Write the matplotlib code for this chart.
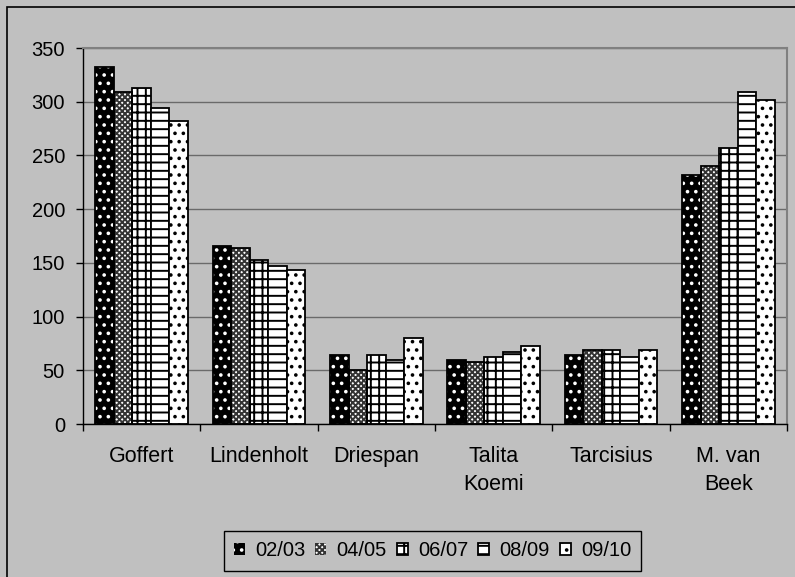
import numpy as np
import matplotlib
matplotlib.use("Agg")
from matplotlib import pyplot as plt
from matplotlib.patches import Rectangle

plt.rcParams['font.family'] = ['Liberation Sans', 'DejaVu Sans']
plt.rcParams['hatch.linewidth'] = 1.4

schools = ["Goffert", "Lindenholt", "Driespan", "Talita\nKoemi", "Tarcisius", "M. van\nBeek"]
seasons = ["02/03", "04/05", "06/07", "08/09", "09/10"]

v0203 = [332, 166, 64, 60, 64, 232]
v0405 = [309, 164, 50, 58, 69, 240]
v0607 = [313, 153, 64, 62, 69, 257]
v0809 = [294, 147, 60, 67, 62, 309]
v0910 = [282, 143, 80, 73, 69, 302]
values = [v0203, v0405, v0607, v0809, v0910]

hatches = ['..', 'xxxxxx', '++', '--', '..']
faces = ['black', 'white', 'white', 'white', 'white']

bg = '#c0c0c0'
fig = plt.figure(figsize=(7.95, 5.77), dpi=100, facecolor=bg)
ax = fig.add_axes([83/795, 1 - 424/577, 704/795, 376/577])
ax.set_facecolor(bg)

# outer chart frame (only left and top edges are inside the picture)
fig.add_artist(Rectangle((7/795, -0.5), 2, 1.5 - 7/577, transform=fig.transFigure,
                         fill=False, edgecolor='black', linewidth=1.2))

x = np.arange(len(schools))
w = 0.158
handles = []
for i, vals in enumerate(values):
    pos = x + (i - 2) * w
    if i == 0:
        b = ax.bar(pos, vals, w, color='black', edgecolor='white', hatch=hatches[i],
                   linewidth=0, zorder=2, label=seasons[i])
        ax.bar(pos, vals, w, fill=False, edgecolor='black', linewidth=1.3, zorder=3)
    elif i == 1:
        b = ax.bar(pos, vals, w, color=faces[i], edgecolor='#333333', hatch=hatches[i],
                   linewidth=0, zorder=2, label=seasons[i])
        ax.bar(pos, vals, w, fill=False, edgecolor='black', linewidth=1.3, zorder=3)
    else:
        b = ax.bar(pos, vals, w, color=faces[i], edgecolor='black', hatch=hatches[i],
                   linewidth=1.3, zorder=2, label=seasons[i])
    handles.append(b)

ax.set_xlim(-0.5, len(schools) - 0.5)
ax.set_ylim(0, 350)
ax.set_yticks(np.arange(0, 351, 50))
ax.yaxis.grid(True, color='#6a6a6a', linewidth=1.0)
ax.set_axisbelow(True)

ax.set_xticks(np.arange(len(schools) + 1) - 0.5)
ax.set_xticklabels([])
ax.set_xticks(x, minor=True)
ax.set_xticklabels(schools, minor=True, fontsize=15.5, linespacing=1.4, va='top')
ax.tick_params(axis='x', which='major', length=5, width=1, direction='out', color='black')
ax.tick_params(axis='x', which='minor', length=0, pad=16)
ax.tick_params(axis='y', length=5, width=1, direction='out', pad=8, labelsize=14.5)

for s in ['left', 'bottom']:
    ax.spines[s].set_color('black')
    ax.spines[s].set_linewidth(1.0)
for s in ['top', 'right']:
    ax.spines[s].set_color('#808080')
    ax.spines[s].set_linewidth(1.5)

leg = fig.legend(handles=handles, labels=seasons, loc='center', ncol=5,
                 bbox_to_anchor=(432.5/795, 1 - 551/577), fontsize=14.5,
                 frameon=True, fancybox=False, facecolor=bg, edgecolor='black',
                 framealpha=1, handlelength=0.55, handleheight=0.55,
                 handletextpad=0.5, columnspacing=0.5, borderpad=0.5)
leg.get_frame().set_linewidth(1.0)

fig.savefig("out.png", dpi=100, facecolor=bg)
